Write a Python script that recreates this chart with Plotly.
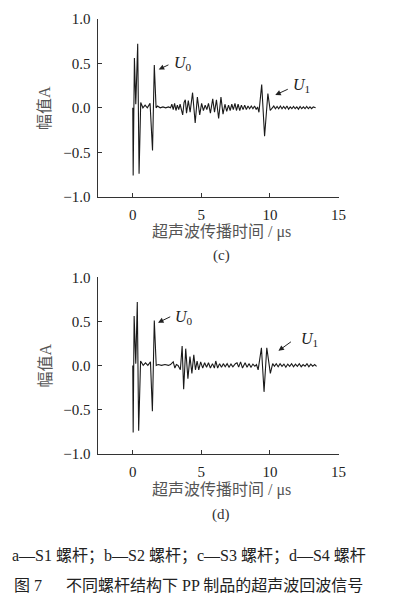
import plotly.graph_objects as go

# ---------------- data ----------------
# panel (c): time (us) and amplitude
t_c = [0.0, 0.03, 0.12, 0.22, 0.36, 0.46, 0.58, 0.74, 0.9, 1.06, 1.26, 1.44, 1.57, 1.7, 1.8,
       2.0, 2.2, 2.4, 2.6, 2.75, 2.85, 2.95, 3.05, 3.15, 3.25, 3.35, 3.45, 3.55, 3.64, 3.74,
       3.83, 3.92, 4.05, 4.18, 4.36, 4.55, 4.71, 4.88, 5.02, 5.15, 5.28, 5.4, 5.52, 5.66,
       5.83, 5.96, 6.1, 6.26, 6.43, 6.58, 6.72, 6.85, 6.98, 7.1, 7.22, 7.33, 7.45, 7.56,
       7.68, 7.8, 7.92, 8.04, 8.16, 8.28, 8.4, 8.52, 8.64, 8.76, 8.88, 9.0, 9.1, 9.2,
       9.4, 9.61, 9.85, 10.02, 10.15, 10.28, 10.4, 10.52, 10.64, 10.76, 10.88, 11.0,
       11.12, 11.24, 11.36, 11.48, 11.6, 11.72, 11.84, 11.96, 12.08, 12.2, 12.32, 12.44,
       12.56, 12.68, 12.8, 12.92, 13.04, 13.16, 13.33]
a_c = [0.0, -0.76, 0.56, 0.04, 0.72, -0.74, 0.06, 0.0, 0.03, 0.0, 0.05, -0.48, 0.48, 0.0, 0.02,
       0.0, 0.01, 0.0, 0.01, 0.0, 0.04, -0.02, 0.05, -0.03, 0.03, -0.02, 0.04, -0.03, -0.08, 0.06,
       0.09, -0.06, 0.08, -0.05, 0.17, -0.17, 0.12, -0.08, 0.05, -0.03, 0.03, -0.02, 0.05, -0.06,
       0.10, -0.05, 0.09, -0.12, 0.12, -0.07, 0.04, -0.04, 0.03, -0.03, 0.04, -0.02, 0.05, -0.03,
       0.04, -0.03, 0.03, -0.02, 0.03, -0.02, 0.02, -0.01, 0.02, -0.01, 0.02, -0.02, 0.01, -0.05,
       0.26, -0.32, 0.16, -0.03, 0.0, 0.02, -0.01, 0.015, -0.01, 0.02, -0.01, 0.015,
       -0.01, 0.02, -0.015, 0.01, -0.01, 0.015, -0.01, 0.01, -0.015, 0.015, -0.01, 0.01,
       -0.01, 0.015, -0.01, 0.01, -0.01, 0.01, 0.0]

# panel (d): time (us) and amplitude
t_d = [0.0, 0.03, 0.1, 0.22, 0.33, 0.43, 0.57, 0.76, 0.93, 1.1, 1.29, 1.43, 1.57, 1.71, 1.85,
       2.1, 2.35, 2.6, 2.75, 2.95, 3.07, 3.18, 3.3, 3.47, 3.6, 3.71, 3.86, 4.02, 4.17, 4.31,
       4.45, 4.57, 4.69, 4.81, 4.95, 5.1, 5.24, 5.38, 5.52, 5.66, 5.81, 5.95, 6.05, 6.19,
       6.33, 6.47, 6.6, 6.74, 6.88, 7.02, 7.16, 7.3, 7.48, 7.6, 7.72, 7.86, 8.0, 8.19, 8.33,
       8.47, 8.62, 8.76, 8.9, 9.02, 9.14, 9.38, 9.57, 9.77, 10.03, 10.2, 10.33, 10.46,
       10.6, 10.74, 10.88, 11.02, 11.16, 11.3, 11.44, 11.58, 11.72, 11.86, 12.0, 12.14,
       12.28, 12.42, 12.56, 12.7, 12.84, 12.98, 13.12, 13.26, 13.4]
a_d = [0.0, -0.76, 0.56, 0.02, 0.72, -0.74, 0.05, 0.0, 0.03, 0.0, 0.04, -0.52, 0.51, 0.0, 0.01,
       0.0, 0.01, 0.0, 0.01, 0.04, -0.03, 0.01, 0.0, -0.05, 0.22, -0.27, 0.19, -0.15, 0.10, -0.09,
       0.12, -0.05, 0.05, -0.05, 0.04, -0.03, 0.03, -0.02, 0.03, -0.03, 0.02, -0.03, 0.05, -0.03,
       0.02, -0.02, 0.02, -0.015, 0.02, -0.02, 0.015, -0.015, 0.02, 0.03, -0.02, 0.04, -0.03,
       0.03, -0.02, 0.02, -0.02, 0.015, -0.01, 0.01, -0.05, 0.20, -0.30, 0.20, -0.09, 0.02,
       -0.01, 0.02, -0.015, 0.02, -0.01, 0.015, -0.02, 0.015, -0.01, 0.02, -0.015, 0.015,
       -0.01, 0.02, -0.015, 0.01, -0.01, 0.02, -0.015, 0.015, -0.01, 0.01, -0.01]

x_ticks = [0, 5, 10, 15]
y_ticks = [-1.0, -0.5, 0.0, 0.5, 1.0]
y_ticktext = ["\u22121.0", "\u22120.5", "0.0", "0.5", "1.0"]
x_title = "超声波传播时间\u00a0/\u00a0μs"
y_title = "幅值A"
panel_labels = ["(c)", "(d)"]
caption_1 = "a—S1 螺杆；b—S2 螺杆；c—S3 螺杆；d—S4 螺杆"
caption_2 = "图 7\u00a0\u00a0\u00a0\u00a0\u00a0\u00a0不同螺杆结构下 PP 制品的超声波回波信号"

# ---------------- figure ----------------
W, H = 396, 612


def px(x):
    return x / W


def py(y):
    return 1 - y / H


SERIF = "Liberation Serif, Times New Roman, serif"
CJK = "Liberation Serif, Noto Sans CJK SC, serif"

fig = go.Figure()
fig.add_trace(go.Scatter(x=t_c, y=a_c, mode="lines", line=dict(color="#1a1a1a", width=1.1),
                         xaxis="x", yaxis="y", showlegend=False, hoverinfo="skip"))
fig.add_trace(go.Scatter(x=t_d, y=a_d, mode="lines", line=dict(color="#1a1a1a", width=1.1),
                         xaxis="x2", yaxis="y2", showlegend=False, hoverinfo="skip"))

xdom = [px(100.5), px(345.5)]
ydom_c = [py(194), py(11)]
ydom_d = [py(457.5), py(276.5)]

axis_common = dict(showline=True, linecolor="#333", linewidth=1, showgrid=False, zeroline=False,
                   ticks="inside", ticklen=4, tickcolor="#333", tickwidth=1,
                   tickfont=dict(family=SERIF, size=15, color="#222"), mirror=False)

fig.update_layout(
    width=W, height=H, autosize=False,
    margin=dict(l=0, r=0, t=0, b=0),
    paper_bgcolor="white", plot_bgcolor="white",
    xaxis=dict(domain=xdom, range=[-2.5, 15], tickvals=x_ticks, anchor="y",
               ticklabelstandoff=4, **axis_common),
    yaxis=dict(domain=ydom_c, range=[-1, 1], tickvals=y_ticks, ticktext=y_ticktext, anchor="x",
               ticklabelstandoff=4, **axis_common),
    xaxis2=dict(domain=xdom, range=[-2.5, 15], tickvals=x_ticks, anchor="y2",
                ticklabelstandoff=4, **axis_common),
    yaxis2=dict(domain=ydom_d, range=[-1, 1], tickvals=y_ticks, ticktext=y_ticktext, anchor="x2",
                ticklabelstandoff=4, **axis_common),
)

ann = []
title_font = dict(family=CJK, size=16, color="#555")
for yc, yx in [(102.5, 230), (367, 495)]:
    ann.append(dict(text=x_title, x=px(226), y=py(yx), xref="paper", yref="paper",
                    showarrow=False, font=title_font, xanchor="center", yanchor="middle"))
    ann.append(dict(text=y_title, x=px(46), y=py(yc), xref="paper", yref="paper", textangle=-90,
                    showarrow=False, font=title_font, xanchor="center", yanchor="middle"))
for lab, yl in zip(panel_labels, [254, 520]):
    ann.append(dict(text=lab, x=px(226), y=py(yl), xref="paper", yref="paper",
                    showarrow=False, font=dict(family=SERIF, size=15, color="#333"),
                    xanchor="center", yanchor="middle"))

# arrows + labels U0 / U1
arrows = [
    ("x", "y", 1.89, 0.43, 2.71, 0.49, 2.84, 0.50, "0"),
    ("x", "y", 10.39, 0.144, 11.41, 0.216, 11.53, 0.246, "1"),
    ("x2", "y2", 1.84, 0.485, 2.84, 0.56, 2.96, 0.54, "0"),
    ("x2", "y2", 10.62, 0.165, 11.64, 0.28, 12.12, 0.29, "1"),
]
for xr, yr, hx, hy, tx, ty, lx, ly, sub in arrows:
    ann.append(dict(x=hx, y=hy, ax=tx, ay=ty, xref=xr, yref=yr, axref=xr, ayref=yr, text="",
                    showarrow=True, arrowhead=2, arrowsize=1.1, arrowwidth=1, arrowcolor="#222"))
    ann.append(dict(x=lx, y=ly, xref=xr, yref=yr, showarrow=False,
                    text="<i>U</i><sub>" + sub + "</sub>", xanchor="left", yanchor="middle",
                    font=dict(family=SERIF, size=16, color="#222")))

cap_font = dict(family=CJK, size=16, color="#222")
ann.append(dict(text=caption_1, x=px(192.5), y=py(563), xref="paper", yref="paper",
                showarrow=False, font=cap_font, xanchor="center", yanchor="middle"))
ann.append(dict(text=caption_2, x=px(192.5), y=py(593), xref="paper", yref="paper",
                showarrow=False, font=cap_font, xanchor="center", yanchor="middle"))

fig.update_layout(annotations=ann)
fig.write_html("out.html",
               config={"displayModeBar": False},
               post_script="document.body.style.margin='0';document.body.style.overflow='hidden';")
